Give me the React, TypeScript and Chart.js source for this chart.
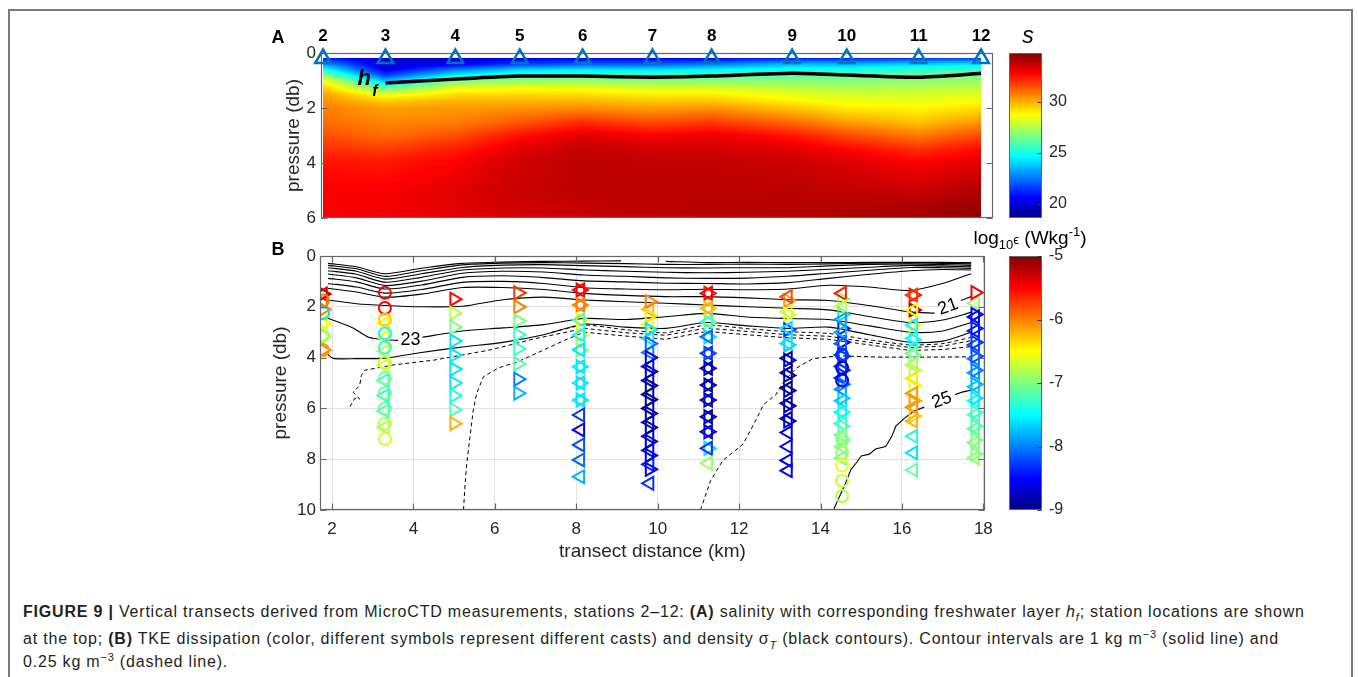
import React, { useEffect, useRef } from "react";
import { Chart, registerables } from "chart.js";

Chart.register(...registerables);

// ---------------- stations ----------------
const stationLabels = ["2", "3", "4", "5", "6", "7", "8", "9", "10", "11", "12"];
const stationKm = [1.78, 3.3, 5.0, 6.57, 8.1, 9.8, 11.24, 13.2, 14.53, 16.28, 17.8];
const stationMarkDepth = 0.2;

// ---------------- panel A: salinity profiles (one array per station) ----------------
const salDepth = [0.18, 0.4, 0.6, 0.8, 1.0, 1.25, 1.5, 1.75, 2.0, 2.5, 3.0, 3.5, 4.0, 5.0, 6.0];
const salSt2 = [21.0, 23.0, 25.0, 27.0, 28.5, 29.5, 30.2, 30.5, 30.7, 31.0, 31.5, 32.0, 32.5, 32.8, 32.9];
const salSt3 = [20.0, 19.8, 20.3, 21.5, 23.5, 26.0, 28.3, 29.5, 30.2, 30.6, 31.0, 31.8, 32.4, 32.8, 33.0];
const salSt4 = [20.2, 20.3, 22.5, 24.5, 26.5, 28.2, 29.2, 29.9, 30.3, 30.7, 31.5, 32.3, 32.8, 33.2, 33.2];
const salSt5 = [20.5, 21.5, 24.0, 25.5, 27.0, 28.4, 29.3, 29.9, 30.4, 31.3, 32.5, 33.2, 33.5, 33.6, 33.4];
const salSt6 = [20.5, 22.0, 24.3, 25.8, 27.0, 28.3, 29.2, 29.9, 30.5, 32.0, 33.2, 33.7, 33.8, 33.8, 33.6];
const salSt7 = [20.5, 22.0, 24.2, 25.6, 26.8, 28.0, 28.9, 29.6, 30.2, 31.5, 32.8, 33.5, 33.7, 33.8, 33.8];
const salSt8 = [20.6, 22.5, 24.5, 25.8, 26.8, 28.0, 28.9, 29.6, 30.4, 31.8, 33.0, 33.5, 33.7, 33.8, 33.9];
const salSt9 = [21.0, 23.5, 25.0, 26.0, 26.8, 27.6, 28.3, 28.9, 29.6, 31.0, 32.4, 33.2, 33.6, 33.8, 34.0];
const salSt10 = [21.0, 23.5, 25.0, 26.0, 26.7, 27.4, 28.0, 28.5, 29.0, 30.2, 31.6, 32.7, 33.3, 33.7, 34.1];
const salSt11 = [21.3, 24.0, 25.4, 26.3, 26.9, 27.5, 28.0, 28.4, 28.8, 29.6, 30.8, 32.0, 32.8, 33.6, 34.3];
const salSt12 = [21.5, 24.3, 25.6, 26.5, 27.1, 27.7, 28.2, 28.7, 29.2, 30.3, 31.6, 32.6, 33.2, 34.0, 34.6];
const salinityTable = [salSt2, salSt3, salSt4, salSt5, salSt6, salSt7, salSt8, salSt9, salSt10, salSt11, salSt12];

const salinityMin = 18.6;
const salinityMax = 34.75;
const salinityTicks = [20, 25, 30];
const pressureTicksA = [0, 2, 4, 6];

// freshwater layer depth h_f
const hfKm = [3.3, 5.0, 6.57, 8.1, 9.8, 11.24, 13.2, 14.53, 16.28, 17.8];
const hfDepth = [1.09, 0.95, 0.84, 0.84, 0.88, 0.84, 0.74, 0.8, 0.88, 0.74];

// ---------------- panel B: dissipation casts ----------------
const epsMin = -9;
const epsMax = -5;
const epsTicks = [-5, -6, -7, -8, -9];
const distanceTicks = [2, 4, 6, 8, 10, 12, 14, 16, 18];
const pressureTicksB = [0, 2, 4, 6, 8, 10];

const st2RightP = [1.5, 2.1, 2.65, 3.15, 3.7];
const st2RightE = [-5.3, -6.0, -6.5, -6.8, -6.0];
const st2LeftP = [1.5, 1.8, 2.6];
const st2LeftE = [-5.4, -5.9, -6.6];
const st2CircP = [1.75, 2.25, 3.15, 3.7];
const st2CircE = [-6.0, -7.6, -6.9, -6.1];

const st3CircP = [1.45, 2.05, 2.5, 3.05, 3.6, 4.2, 4.8, 5.4, 6.0, 6.6, 7.2];
const st3CircE = [-5.5, -5.5, -6.3, -7.5, -7.3, -6.8, -7.0, -7.1, -7.1, -6.8, -6.7];
const st3LeftP = [2.65, 3.2, 3.75, 4.3, 4.9, 5.5, 6.1, 6.75];
const st3LeftE = [-6.5, -6.6, -6.8, -6.6, -7.3, -7.3, -7.2, -6.8];

const st4RightP = [1.7, 2.25, 2.8, 3.35, 3.9, 4.45, 5.0, 5.5, 6.05, 6.6];
const st4RightE = [-5.5, -6.8, -7.0, -7.6, -7.6, -7.6, -7.6, -7.4, -7.2, -6.2];

const st5RightP = [1.45, 2.0, 2.55, 3.1, 3.65, 4.25, 4.85, 5.4];
const st5RightE = [-5.7, -6.0, -7.0, -7.3, -7.3, -7.2, -8.0, -7.8];

const st6LeftP = [1.34, 1.93, 2.52, 3.11, 3.7, 4.36, 5.0, 5.67, 6.26, 6.85, 7.44, 8.03, 8.69];
const st6LeftE = [-5.5, -6.0, -7.2, -7.5, -7.6, -7.6, -7.6, -7.6, -8.3, -8.5, -8.2, -8.1, -7.8];
const st6RightP = [1.34, 1.93, 2.52, 3.11, 3.7, 4.36, 5.0, 5.67];
const st6RightE = [-5.5, -6.0, -6.5, -6.7, -7.0, -7.6, -7.6, -7.6];

const st7RightP = [1.8, 2.35, 2.9, 3.45, 4.0, 4.55, 5.1, 5.65, 6.2, 6.75, 7.3, 7.85, 8.4];
const st7RightE = [-6.0, -6.4, -7.6, -8.1, -8.6, -8.8, -8.9, -8.9, -8.8, -8.8, -8.7, -8.6, -8.5];
const st7LeftP = [2.1, 2.7, 3.25, 3.8, 4.35, 4.9, 5.45, 6.0, 6.55, 7.1, 7.65, 8.2, 8.95];
const st7LeftE = [-6.2, -6.6, -7.6, -8.0, -8.5, -8.8, -8.9, -8.9, -8.8, -8.7, -8.6, -8.4, -8.3];

const st8LeftP = [1.47, 2.06, 2.59, 3.18, 3.83, 4.42, 5.08, 5.67, 6.33, 6.92, 7.57, 8.16];
const st8LeftE = [-5.5, -6.2, -7.3, -8.1, -8.3, -8.8, -8.8, -8.8, -8.8, -8.7, -8.3, -6.9];
const st8RightP = [1.47, 2.06, 2.59, 3.18, 3.83, 4.42, 5.08, 5.67, 6.33, 6.92, 7.57];
const st8RightE = [-5.6, -6.3, -7.0, -7.6, -8.2, -8.7, -8.8, -8.8, -8.8, -8.6, -7.6];

const st9LeftP = [1.6, 2.19, 2.85, 3.44, 4.03, 4.6, 5.2, 5.8, 6.4, 6.95, 7.5, 8.05, 8.45];
const st9LeftE = [-5.8, -6.7, -7.6, -7.6, -8.8, -8.9, -8.9, -8.8, -8.8, -8.7, -8.6, -8.6, -8.5];
const st9RightP = [1.75, 2.3, 2.9, 3.5, 4.1, 4.7, 5.3, 5.9, 6.5];
const st9RightE = [-6.1, -6.6, -8.3, -7.7, -8.9, -8.9, -8.8, -8.8, -8.7];

const st10LeftP = [1.47, 2.0, 2.5, 3.0, 3.45, 3.9, 4.35, 4.8, 5.25, 5.7, 6.15, 6.6, 7.05, 7.5, 7.95];
const st10LeftE = [-5.6, -6.7, -7.9, -7.8, -8.1, -8.3, -8.3, -8.3, -7.9, -7.7, -7.5, -7.3, -7.0, -7.0, -7.0];
const st10RightP = [1.7, 2.3, 2.85, 3.4, 3.95, 4.5, 5.05, 5.6, 6.15, 6.7, 7.25];
const st10RightE = [-7.0, -7.6, -8.4, -8.5, -8.3, -8.3, -8.0, -7.7, -7.4, -7.2, -7.0];
const st10CircP = [3.9, 4.4, 4.9, 7.2, 7.75, 8.25, 8.85, 9.45];
const st10CircE = [-8.3, -8.7, -8.5, -7.0, -6.9, -6.6, -6.7, -6.8];

const st11LeftP = [1.54, 2.13, 2.72, 3.24, 3.83, 4.29, 4.82, 5.41, 5.95, 6.5, 7.1, 7.75, 8.43];
const st11LeftE = [-5.7, -6.5, -7.5, -7.5, -7.1, -6.8, -6.4, -6.1, -6.1, -6.2, -7.4, -7.6, -7.1];
const st11RightP = [1.54, 2.13, 2.72, 3.3, 3.9, 4.5, 5.1, 5.7, 6.3];
const st11RightE = [-5.6, -5.2, -6.5, -7.5, -7.0, -6.8, -6.6, -6.1, -6.3];

const st12RightP = [1.44, 2.3, 2.85, 3.4, 3.95, 4.5, 5.05, 5.6, 6.15, 6.7, 7.25, 7.8];
const st12RightE = [-5.5, -8.5, -8.4, -8.3, -8.2, -8.0, -7.8, -7.6, -7.3, -7.2, -7.0, -7.0];
const st12LeftP = [1.86, 2.4, 2.95, 3.5, 4.05, 4.6, 5.15, 5.7, 6.25, 6.8, 7.35, 7.95];
const st12LeftE = [-6.9, -8.6, -8.4, -8.2, -8.0, -7.9, -7.7, -7.5, -7.2, -7.1, -7.0, -6.9];

type Sym = ">" | "<" | "o";
const casts: { km: number; sym: Sym; p: number[]; e: number[] }[] = [
  { km: stationKm[0], sym: "o", p: st2CircP, e: st2CircE },
  { km: stationKm[0], sym: ">", p: st2RightP, e: st2RightE },
  { km: stationKm[0], sym: "<", p: st2LeftP, e: st2LeftE },
  { km: stationKm[1], sym: "o", p: st3CircP, e: st3CircE },
  { km: stationKm[1], sym: "<", p: st3LeftP, e: st3LeftE },
  { km: stationKm[2], sym: ">", p: st4RightP, e: st4RightE },
  { km: stationKm[3], sym: ">", p: st5RightP, e: st5RightE },
  { km: stationKm[4], sym: "<", p: st6LeftP, e: st6LeftE },
  { km: stationKm[4], sym: ">", p: st6RightP, e: st6RightE },
  { km: stationKm[5], sym: ">", p: st7RightP, e: st7RightE },
  { km: stationKm[5], sym: "<", p: st7LeftP, e: st7LeftE },
  { km: stationKm[6], sym: "<", p: st8LeftP, e: st8LeftE },
  { km: stationKm[6], sym: ">", p: st8RightP, e: st8RightE },
  { km: stationKm[7], sym: "<", p: st9LeftP, e: st9LeftE },
  { km: stationKm[7], sym: ">", p: st9RightP, e: st9RightE },
  { km: stationKm[8], sym: "o", p: st10CircP, e: st10CircE },
  { km: stationKm[8], sym: "<", p: st10LeftP, e: st10LeftE },
  { km: stationKm[8], sym: ">", p: st10RightP, e: st10RightE },
  { km: stationKm[9], sym: "<", p: st11LeftP, e: st11LeftE },
  { km: stationKm[9], sym: ">", p: st11RightP, e: st11RightE },
  { km: stationKm[10], sym: ">", p: st12RightP, e: st12RightE },
  { km: stationKm[10], sym: "<", p: st12LeftP, e: st12LeftE },
];

// ---------------- panel B: sigma-T isopycnals ----------------
const isoKm = [1.9, 2.6, 3.3, 4.2, 5.2, 6.2, 7.2, 8.2, 9.2, 10.2, 11.2, 12.2, 13.2, 14.2, 15.2, 16.2, 17.0, 17.7];
const iso1aKm = [1.9, 2.6, 3.3, 4.2, 5.2, 6.2, 7.2, 8.2, 9.1];
const iso1aP = [0.29, 0.42, 0.7, 0.48, 0.29, 0.24, 0.21, 0.2, 0.19];
const iso1bKm = [10.2, 11.2, 12.2, 13.2, 14.2, 15.2, 16.2, 17.0, 17.7];
const iso1bP = [0.21, 0.26, 0.25, 0.26, 0.26, 0.25, 0.25, 0.25, 0.26];
const iso2P = [0.37, 0.5, 0.8, 0.58, 0.35, 0.28, 0.26, 0.28, 0.3, 0.33, 0.33, 0.32, 0.33, 0.31, 0.28, 0.27, 0.29, 0.31];
const iso3P = [0.46, 0.6, 0.91, 0.7, 0.45, 0.36, 0.34, 0.38, 0.42, 0.46, 0.47, 0.46, 0.46, 0.39, 0.33, 0.31, 0.34, 0.37];
const iso4P = [0.58, 0.72, 1.03, 0.84, 0.55, 0.47, 0.47, 0.55, 0.6, 0.64, 0.66, 0.64, 0.6, 0.52, 0.44, 0.37, 0.4, 0.43];
const iso5P = [0.71, 0.86, 1.16, 0.99, 0.68, 0.6, 0.63, 0.75, 0.8, 0.86, 0.88, 0.87, 0.8, 0.68, 0.56, 0.45, 0.46, 0.49];
const iso6P = [0.88, 1.02, 1.3, 1.14, 0.84, 0.78, 0.85, 0.98, 1.02, 1.07, 1.08, 1.1, 1.05, 0.88, 0.72, 0.58, 0.53, 0.55];
const iso7P = [1.08, 1.22, 1.46, 1.32, 1.04, 1.0, 1.08, 1.25, 1.3, 1.33, 1.31, 1.33, 1.3, 1.15, 1.22, 1.36, 1.08, 0.7];
const iso21aKm = [1.9, 2.6, 3.3, 4.2, 5.2, 6.2, 7.2, 8.2, 9.2, 10.2, 11.2, 12.2, 13.2, 14.2, 15.2, 16.2, 16.8];
const iso21aP = [1.27, 1.42, 1.62, 1.5, 1.24, 1.24, 1.32, 1.47, 1.55, 1.6, 1.6, 1.65, 1.72, 1.75, 1.95, 2.2, 2.25];
const iso21bKm = [17.45, 17.7];
const iso21bP = [1.75, 1.6];
const iso22P = [1.73, 1.88, 1.95, 2.0, 1.98, 1.72, 1.62, 1.73, 1.8, 1.86, 1.93, 2.0, 2.06, 2.12, 2.38, 2.62, 2.52, 2.22];
const iso23aKm = [1.8, 2.5, 2.9, 3.3, 3.62];
const iso23aP = [2.39, 2.82, 3.2, 3.3, 3.32];
const iso23bKm = [4.22, 5.2, 6.2, 7.2, 8.2, 9.2, 10.2, 11.2, 12.2, 13.2, 14.2, 15.2, 16.2, 17.0, 17.7];
const iso23bP = [3.2, 2.95, 2.83, 2.7, 2.46, 2.5, 2.39, 2.26, 2.4, 2.46, 2.5, 2.75, 3.0, 2.95, 2.62];
const iso24Km = [1.87, 2.03, 2.6, 3.3, 4.2, 5.2, 6.2, 7.2, 8.2, 9.2, 10.2, 11.2, 12.2, 13.2, 14.2, 15.2, 16.2, 17.0, 17.7];
const iso24P = [3.83, 4.03, 4.04, 4.02, 3.8, 3.58, 3.4, 3.1, 2.68, 2.8, 2.85, 2.62, 2.75, 2.85, 2.8, 3.1, 3.4, 3.35, 3.0];
const iso25aKm = [14.32, 14.4, 14.5, 14.6, 14.75, 14.9, 15.0, 15.2, 15.35, 15.6, 15.75, 15.85, 16.05, 16.3, 16.55];
const iso25aP = [10.0, 9.7, 9.35, 9.0, 8.4, 8.1, 7.87, 7.8, 7.6, 7.5, 7.1, 6.7, 6.4, 6.1, 5.95];
const iso25bKm = [17.3, 17.5, 17.7];
const iso25bP = [5.45, 5.35, 5.28];

// quarter-unit isopycnals (dashed)
const dashAKm = [2.44, 2.56, 2.68, 2.52, 2.68, 2.72, 2.8, 3.5, 4.5, 5.88, 7.0, 8.2, 9.2, 10.2, 11.2, 12.2, 13.2, 14.2, 15.2, 16.2, 17.0, 17.7];
const dashAP = [5.93, 5.6, 5.63, 5.36, 5.1, 4.7, 4.5, 4.29, 4.1, 3.7, 3.25, 2.85, 3.02, 3.12, 2.84, 2.97, 3.1, 3.16, 3.4, 3.6, 3.55, 3.33];
const dashBKm = [5.23, 5.27, 5.31, 5.39, 5.47, 5.55, 5.72, 6.1, 6.57, 7.2, 7.72, 8.2, 9.2, 10.2, 11.2, 12.2, 13.2, 14.2, 15.2, 16.2, 17.0, 17.7];
const dashBP = [10.0, 8.95, 8.16, 7.11, 6.06, 5.43, 4.75, 4.4, 4.16, 3.7, 3.31, 3.0, 3.15, 3.28, 2.97, 3.1, 3.22, 3.28, 3.5, 3.72, 3.68, 3.57];
const dashCKm = [7.4, 8.2, 9.2, 10.2, 11.2, 12.2, 13.2, 14.2, 15.2, 16.2, 17.0, 17.7];
const dashCP = [3.0, 2.72, 2.9, 3.02, 2.72, 2.86, 2.98, 3.05, 3.3, 3.5, 3.45, 3.2];
const dashDKm = [11.05, 11.3, 11.6, 12.1, 12.4, 12.6, 12.9, 13.1, 13.4, 13.8, 14.4, 15.5, 16.5, 17.7];
const dashDP = [10.0, 8.84, 8.05, 7.4, 6.5, 5.85, 5.46, 4.94, 4.42, 4.05, 3.93, 3.98, 3.98, 3.97];

const contourLabels = [
  { text: "23", km: 3.93, p: 3.3, angle: 0 },
  { text: "21", km: 17.13, p: 2.0, angle: -20 },
  { text: "25", km: 16.98, p: 5.68, angle: -20 },
];

// ---------------- styling ----------------
const FONT = "'Liberation Sans', Arial, Helvetica, sans-serif";
const TEXT = "#262626";
const AXIS = "#666666";

function clamp(v: number, a: number, b: number) {
  return Math.max(a, Math.min(b, v));
}
function jetRGB(t: number): [number, number, number] {
  t = clamp(t, 0, 1);
  const r = clamp(1.5 - Math.abs(4 * t - 3), 0, 1);
  const g = clamp(1.5 - Math.abs(4 * t - 2), 0, 1);
  const b = clamp(1.5 - Math.abs(4 * t - 1), 0, 1);
  return [Math.round(r * 255), Math.round(g * 255), Math.round(b * 255)];
}
function jetCss(t: number) {
  const [r, g, b] = jetRGB(t);
  return `rgb(${r},${g},${b})`;
}
function epsColor(e: number) {
  return jetCss((e - epsMin) / (epsMax - epsMin));
}

function salinityAt(km: number, p: number) {
  let i = 0;
  while (i < stationKm.length - 2 && km > stationKm[i + 1]) i++;
  const tx = clamp((km - stationKm[i]) / (stationKm[i + 1] - stationKm[i]), 0, 1);
  let j = 0;
  while (j < salDepth.length - 2 && p > salDepth[j + 1]) j++;
  const ty = clamp((p - salDepth[j]) / (salDepth[j + 1] - salDepth[j]), 0, 1);
  const a = salinityTable[i][j];
  const b = salinityTable[i + 1][j];
  const c = salinityTable[i][j + 1];
  const d = salinityTable[i + 1][j + 1];
  return (a * (1 - tx) + b * tx) * (1 - ty) + (c * (1 - tx) + d * tx) * ty;
}

function fixedTicks(values: number[]) {
  return (scale: any) => {
    scale.ticks = values.map((v) => ({ value: v }));
  };
}

function drawFrame(ctx: CanvasRenderingContext2D, area: any, xs: any, ys: any, xT: number[], yT: number[]) {
  ctx.save();
  ctx.strokeStyle = AXIS;
  ctx.lineWidth = 1.2;
  const l = Math.round(area.left) + 0.5;
  const t = Math.round(area.top) + 0.5;
  const r = Math.round(area.right) - 0.5;
  const b = Math.round(area.bottom) - 0.5;
  ctx.strokeRect(l, t, r - l, b - t);
  ctx.beginPath();
  const len = 6;
  for (const v of yT) {
    const y = Math.round(ys.getPixelForValue(v)) + 0.5;
    ctx.moveTo(l, y);
    ctx.lineTo(l + len, y);
    ctx.moveTo(r, y);
    ctx.lineTo(r - len, y);
  }
  for (const v of xT) {
    const x = Math.round(xs.getPixelForValue(v)) + 0.5;
    ctx.moveTo(x, b);
    ctx.lineTo(x, b - len);
    ctx.moveTo(x, t);
    ctx.lineTo(x, t + len);
  }
  ctx.stroke();
  ctx.restore();
}

// colour bar drawn along a hidden value scale; tick labels placed at labelX
function drawColorbar(ctx: CanvasRenderingContext2D, cb: any, x0: number, x1: number, ticks: number[], labelX: number) {
  const top = Math.round(cb.getPixelForValue(cb.max));
  const bottom = Math.round(cb.getPixelForValue(cb.min));
  ctx.save();
  for (let y = top; y < bottom; y++) {
    const v = cb.getValueForPixel(y + 0.5);
    ctx.fillStyle = jetCss((v - cb.min) / (cb.max - cb.min));
    ctx.fillRect(x0, y, x1 - x0, 1);
  }
  ctx.strokeStyle = AXIS;
  ctx.lineWidth = 1;
  ctx.strokeRect(x0 + 0.5, top + 0.5, x1 - x0 - 1, bottom - top - 1);
  ctx.beginPath();
  for (const v of ticks) {
    const y = Math.round(cb.getPixelForValue(v)) + 0.5;
    ctx.moveTo(x1 - 0.5, y);
    ctx.lineTo(x1 - 4.5, y);
  }
  ctx.strokeStyle = "#333";
  ctx.stroke();
  ctx.font = `16px ${FONT}`;
  ctx.fillStyle = TEXT;
  ctx.textAlign = "left";
  ctx.textBaseline = "middle";
  for (const v of ticks) {
    ctx.fillText(String(v), labelX, cb.getPixelForValue(v));
  }
  ctx.restore();
}

function text(ctx: CanvasRenderingContext2D, s: string, x: number, y: number, font: string, align: CanvasTextAlign = "center", rot = 0, color = TEXT) {
  ctx.save();
  ctx.translate(x, y);
  if (rot) ctx.rotate(rot);
  ctx.font = font;
  ctx.fillStyle = color;
  ctx.textAlign = align;
  ctx.textBaseline = "middle";
  ctx.fillText(s, 0, 0);
  ctx.restore();
}

// ---------------- panel A drawing ----------------
const salinityPlugin = {
  id: "salinityPanel",
  beforeDatasetsDraw(chart: any) {
    const { ctx, chartArea } = chart;
    const xs = chart.scales.x;
    const ys = chart.scales.y;
    const cb = chart.scales.cb;
    const px0 = Math.round(xs.getPixelForValue(stationKm[0]));
    const px1 = Math.round(xs.getPixelForValue(stationKm[stationKm.length - 1]));
    const py0 = Math.round(ys.getPixelForValue(salDepth[0]));
    const py1 = Math.round(ys.getPixelForValue(salDepth[salDepth.length - 1]));
    const w = px1 - px0;
    const h = py1 - py0;
    const off = document.createElement("canvas");
    off.width = w;
    off.height = h;
    const octx = off.getContext("2d")!;
    const img = octx.createImageData(w, h);
    for (let j = 0; j < h; j++) {
      const p = ys.getValueForPixel(py0 + j + 0.5);
      for (let i = 0; i < w; i++) {
        const km = xs.getValueForPixel(px0 + i + 0.5);
        const [r, g, b] = jetRGB((salinityAt(km, p) - cb.min) / (cb.max - cb.min));
        const k = (j * w + i) * 4;
        img.data[k] = r;
        img.data[k + 1] = g;
        img.data[k + 2] = b;
        img.data[k + 3] = 255;
      }
    }
    octx.putImageData(img, 0, 0);
    ctx.drawImage(off, px0, py0);
    drawFrame(ctx, chartArea, xs, ys, [], pressureTicksA);
  },
  afterDraw(chart: any) {
    const { ctx, chartArea } = chart;
    const xs = chart.scales.x;
    const ys = chart.scales.y;
    stationLabels.forEach((s, i) => {
      text(ctx, s, xs.getPixelForValue(stationKm[i]), 36, `bold 17px ${FONT}`, "center", 0, "#000");
    });
    text(ctx, "A", 278, 38.5, `bold 18px ${FONT}`, "center", 0, "#000");
    text(ctx, "pressure (db)", chartArea.left - 27, (chartArea.top + chartArea.bottom) / 2, `19px ${FONT}`, "center", -Math.PI / 2);
    // h_f label
    ctx.save();
    ctx.fillStyle = "#000";
    ctx.textBaseline = "alphabetic";
    ctx.font = `italic bold 22px ${FONT}`;
    ctx.fillText("h", xs.getPixelForValue(2.62), ys.getPixelForValue(1.15));
    ctx.font = `italic bold 16px ${FONT}`;
    ctx.fillText("f", xs.getPixelForValue(2.98), ys.getPixelForValue(1.55));
    ctx.restore();
    drawColorbar(ctx, chart.scales.cb, 1009, 1042, salinityTicks, 1049);
    text(ctx, "s", 1028, 37, `italic 23px ${FONT}`, "center", 0, "#000");
  },
};

// ---------------- panel B drawing ----------------
const dissipationPlugin = {
  id: "dissipationPanel",
  afterDatasetsDraw(chart: any) {
    const { ctx, chartArea } = chart;
    const xs = chart.scales.x;
    const ys = chart.scales.y;
    drawFrame(ctx, chartArea, xs, ys, distanceTicks, pressureTicksB);
    for (const c of contourLabels) {
      text(ctx, c.text, xs.getPixelForValue(c.km), ys.getPixelForValue(c.p), `18px ${FONT}`, "center", (c.angle * Math.PI) / 180, "#000");
    }
  },
  afterDraw(chart: any) {
    const { ctx, chartArea } = chart;
    text(ctx, "B", 278, 30.5, `bold 18px ${FONT}`, "center", 0, "#000");
    text(ctx, "pressure (db)", chartArea.left - 39, (chartArea.top + chartArea.bottom) / 2, `19px ${FONT}`, "center", -Math.PI / 2);
    text(ctx, "transect distance (km)", (chartArea.left + chartArea.right) / 2, chartArea.bottom + 42, `19px ${FONT}`);
    drawColorbar(ctx, chart.scales.cb, 1009, 1042, epsTicks, 1049);
    // colour bar title: log10 eps (W kg^-1)
    const parts: [string, number, number][] = [
      ["log", 19, 0],
      ["10", 13, 5],
      ["\u03f5", 13, 0],
      [" (Wkg", 19, 0],
      ["-1", 13, -8],
      [")", 19, 0],
    ];
    ctx.save();
    ctx.fillStyle = "#000";
    ctx.textBaseline = "alphabetic";
    ctx.textAlign = "left";
    let total = 0;
    for (const [s, f] of parts) {
      ctx.font = `${f}px ${FONT}`;
      total += ctx.measureText(s).width;
    }
    let x = 1030 - total / 2;
    const base = 24;
    for (const [s, f, dy] of parts) {
      ctx.font = `${f}px ${FONT}`;
      ctx.fillText(s, x, base + dy);
      x += ctx.measureText(s).width;
    }
    ctx.restore();
  },
};

function xy(km: number[], p: number[]) {
  return km.map((x, i) => ({ x, y: p[i] }));
}

function contourSet(km: number[], p: number[], dashed = false, tension = 0.25) {
  return {
    data: xy(km, p),
    showLine: true,
    borderColor: "#000",
    borderWidth: dashed ? 1 : 1.1,
    borderDash: dashed ? [4, 3] : [],
    pointRadius: 0,
    pointHitRadius: 0,
    tension,
    order: 2,
  };
}

const tickFont = { family: FONT, size: 17 };

export default function App() {
  const refA = useRef<HTMLCanvasElement>(null);
  const refB = useRef<HTMLCanvasElement>(null);

  useEffect(() => {
    const chartA = new Chart(refA.current!, {
      type: "scatter",
      data: {
        datasets: [
          {
            data: xy(hfKm, hfDepth),
            showLine: true,
            borderColor: "#000",
            borderWidth: 3.5,
            pointRadius: 0,
            tension: 0.2,
          } as any,
          {
            data: stationKm.map((x) => ({ x, y: stationMarkDepth })),
            pointStyle: "triangle",
            pointRadius: 9,
            pointBorderWidth: 2.5,
            pointBorderColor: "#0072BD",
            pointBackgroundColor: "rgba(0,0,0,0)",
            clip: false,
          } as any,
        ],
      },
      options: {
        responsive: false,
        animation: false,
        events: [],
        layout: { padding: { left: 0, right: 1358 - 993, top: 53, bottom: 240 - 218 } },
        plugins: { legend: { display: false }, tooltip: { enabled: false } },
        scales: {
          x: { type: "linear", min: 1.73, max: 18.09, display: false },
          y: {
            type: "linear",
            position: "left",
            reverse: true,
            min: 0,
            max: 6,
            grid: { display: false, drawTicks: false },
            border: { display: false },
            ticks: { font: tickFont, color: TEXT, padding: 5, callback: (v: any) => String(v) },
            afterBuildTicks: fixedTicks(pressureTicksA),
            afterFit: (s: any) => {
              s.width = 321;
            },
          },
          cb: { type: "linear", position: "right", min: salinityMin, max: salinityMax, display: false },
        } as any,
      },
      plugins: [salinityPlugin],
    });

    const contourData = [
      contourSet(iso1aKm, iso1aP),
      contourSet(iso1bKm, iso1bP),
      contourSet(isoKm, iso2P),
      contourSet(isoKm, iso3P),
      contourSet(isoKm, iso4P),
      contourSet(isoKm, iso5P),
      contourSet(isoKm, iso6P),
      contourSet(isoKm, iso7P),
      contourSet(iso21aKm, iso21aP),
      contourSet(iso21bKm, iso21bP),
      contourSet(isoKm, iso22P),
      contourSet(iso23aKm, iso23aP),
      contourSet(iso23bKm, iso23bP),
      contourSet(iso24Km, iso24P),
      contourSet(iso25aKm, iso25aP, false, 0),
      contourSet(iso25bKm, iso25bP, false, 0),
      contourSet(dashAKm, dashAP, true, 0),
      contourSet(dashBKm, dashBP, true, 0),
      contourSet(dashCKm, dashCP, true, 0.2),
      contourSet(dashDKm, dashDP, true, 0),
    ];

    const markerData = casts.map((c) => ({
      data: c.p.map((p) => ({ x: c.km, y: p })),
      showLine: false,
      pointStyle: c.sym === "o" ? "circle" : "triangle",
      pointRotation: c.sym === ">" ? 90 : c.sym === "<" ? -90 : 0,
      pointRadius: c.sym === "o" ? 6 : 7.5,
      pointBorderWidth: 2,
      pointBorderColor: c.e.map(epsColor),
      pointBackgroundColor: "rgba(0,0,0,0)",
      order: 1,
    }));

    const chartB = new Chart(refB.current!, {
      type: "scatter",
      data: { datasets: [...contourData, ...markerData] as any },
      options: {
        responsive: false,
        animation: false,
        events: [],
        layout: { padding: { left: 0, right: 1358 - 985, top: 36, bottom: 20 } },
        plugins: { legend: { display: false }, tooltip: { enabled: false } },
        scales: {
          x: {
            type: "linear",
            min: 1.705,
            max: 18.04,
            grid: { color: "#e2e2e2", lineWidth: 1, drawTicks: false },
            border: { display: false },
            ticks: { font: tickFont, color: TEXT, padding: 9, maxRotation: 0, callback: (v: any) => String(v) },
            afterBuildTicks: fixedTicks(distanceTicks),
            afterFit: (s: any) => {
              s.height = 50;
            },
          },
          y: {
            type: "linear",
            position: "left",
            reverse: true,
            min: 0,
            max: 10,
            grid: { color: "#e2e2e2", lineWidth: 1, drawTicks: false },
            border: { display: false },
            ticks: { font: tickFont, color: TEXT, padding: 4, callback: (v: any) => String(v) },
            afterBuildTicks: fixedTicks(pressureTicksB),
            afterFit: (s: any) => {
              s.width = 320;
            },
          },
          cb: { type: "linear", position: "right", min: epsMin, max: epsMax, display: false },
        } as any,
      },
      plugins: [dissipationPlugin],
    });

    return () => {
      chartA.destroy();
      chartB.destroy();
    };
  }, []);

  const cap: React.CSSProperties = {
    position: "absolute",
    left: 23,
    whiteSpace: "nowrap",
    fontFamily: FONT,
    fontSize: 16,
    lineHeight: "22px",
    color: "#231f20",
    letterSpacing: "0.8px",
  };

  return (
    <div style={{ position: "absolute", left: 0, top: 0, width: 1358, height: 677, overflow: "hidden", background: "#fff" }}>
      <div
        style={{
          position: "absolute",
          left: 8,
          top: 9,
          width: 1341,
          height: 700,
          borderLeft: "2px solid #7a7a7a",
          borderTop: "2px solid #7a7a7a",
          borderRight: "2px solid #7a7a7a",
        }}
      />
      <canvas ref={refA} width={1358} height={240} style={{ position: "absolute", left: 0, top: 0 }} />
      <canvas ref={refB} width={1358} height={360} style={{ position: "absolute", left: 0, top: 220 }} />
      <div style={{ ...cap, top: 601 }}>
        <b>FIGURE 9 |</b> Vertical transects derived from MicroCTD measurements, stations 2–12: <b>(A)</b> salinity with corresponding freshwater layer{" "}
        <i>h</i>
        <sub style={{ fontSize: 11 }}>
          <i>f</i>
        </sub>
        ; station locations are shown
      </div>
      <div style={{ ...cap, top: 623 }}>
        at the top; <b>(B)</b> TKE dissipation (color, different symbols represent different casts) and density σ
        <sub style={{ fontSize: 11 }}>
          <i>T</i>
        </sub>{" "}
        (black contours). Contour intervals are 1 kg m<sup style={{ fontSize: 11 }}>−3</sup> (solid line) and
      </div>
      <div style={{ ...cap, top: 646 }}>
        0.25 kg m<sup style={{ fontSize: 11 }}>−3</sup> (dashed line).
      </div>
    </div>
  );
}
